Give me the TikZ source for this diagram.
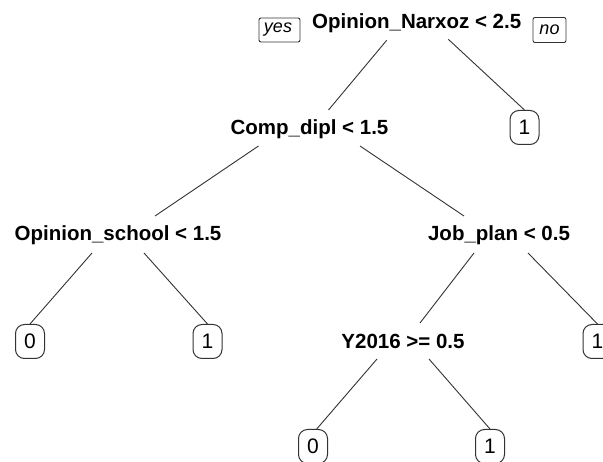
\documentclass[tikz,border=0pt]{standalone}
\usepackage{fontspec}
\setmainfont{Liberation Sans}
\begin{document}
\begin{tikzpicture}[x=1pt,y=-1pt,
  split/.style={inner sep=0pt, anchor=base, font=\fontsize{20.5}{24}\selectfont\bfseries},
  leaf/.style={draw=black!80, line width=1pt, rounded corners=9pt, anchor=north,
    minimum width=29pt, minimum height=34pt, inner sep=0pt,
    font=\fontsize{21}{24}\selectfont},
  tag/.style={draw=black!80, line width=0.9pt, rounded corners=2pt, inner sep=0pt,
    font=\fontsize{18}{20}\selectfont\itshape},
  branch/.style={draw=black!80, line width=0.9pt}]
\clip (0,0) rectangle (603,462);
\fill[white] (0,0) rectangle (603,462);
% split labels
\node[split] (root) at (416.7,28.3) {Opinion\_Narxoz < 2.5};
\node[split] (cd) at (309.5,135) {Comp\_dipl < 1.5};
\node[split] (os) at (118,241) {Opinion\_school < 1.5};
\node[split] (jp) at (499,241) {Job\_plan < 0.5};
\node[split] (yr) at (403,349) {Y2016 >= 0.5};
% yes/no tags
\node[tag, minimum width=41pt, minimum height=24pt] (yes) at (279.5,30) {yes\hspace*{3pt}};
\node[tag, minimum width=33pt, minimum height=25pt] (no) at (549.5,30) {no};
% leaves
\node[leaf] (l1) at (524.5,110) {1};
\node[leaf] (l2) at (30,324) {0};
\node[leaf] (l3) at (207.5,324) {1};
\node[leaf] (l4) at (597.5,324) {1};
\node[leaf] (l5) at (313,429) {0};
\node[leaf] (l6) at (490,429) {1};
% branches
\draw[branch] ([shift={(-30,12)}]root.base) -- ([shift={(19,-25)}]cd.base);
\draw[branch] ([shift={(31.6,11)}]root.base) -- (l1.north);
\draw[branch] ([shift={(-51,11)}]cd.base) -- ([shift={(37,-25)}]os.base);
\draw[branch] ([shift={(50.5,11)}]cd.base) -- ([shift={(-35,-25)}]jp.base);
\draw[branch] ([shift={(-26,12)}]os.base) -- (l2.north);
\draw[branch] ([shift={(26,12)}]os.base) -- (l3.north);
\draw[branch] ([shift={(-25,12)}]jp.base) -- ([shift={(17,-26)}]yr.base);
\draw[branch] ([shift={(29,12)}]jp.base) -- (l4.north);
\draw[branch] ([shift={(-26,10)}]yr.base) -- ([xshift=3.7pt]l5.north);
\draw[branch] ([shift={(26,10)}]yr.base) -- (l6.north);
\end{tikzpicture}
\end{document}
